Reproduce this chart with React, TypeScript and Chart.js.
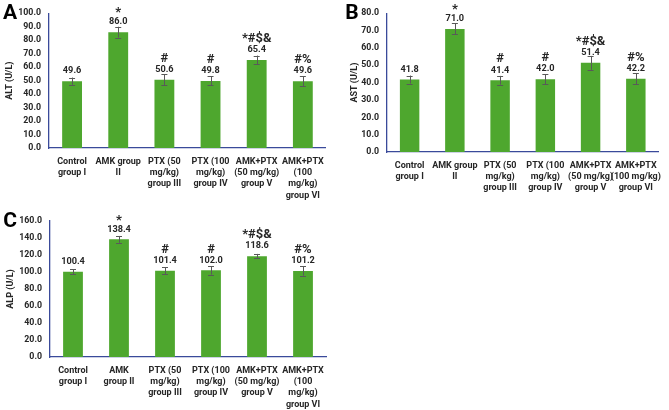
import React, { useEffect, useRef } from "react";
import { Chart, registerables } from "chart.js";

Chart.register(...registerables);

const labelsAB = [
  ["Control", "group I"],
  ["AMK group", "II"],
  ["PTX (50", "mg/kg)", "group III"],
  ["PTX (100", "mg/kg)", "group IV"],
  ["AMK+PTX", "(50 mg/kg)", "group V"],
  ["AMK+PTX", "(100", "mg/kg)", "group VI"],
];
const labelsB = [
  ["Control", "group I"],
  ["AMK group", "II"],
  ["PTX (50", "mg/kg)", "group III"],
  ["PTX (100", "mg/kg)", "group IV"],
  ["AMK+PTX", "(50 mg/kg)", "group V"],
  ["AMK+PTX", "(100 mg/kg)", "group VI"],
];
const labelsC = [
  ["Control", "group I"],
  ["AMK", "group II"],
  ["PTX (50", "mg/kg)", "group III"],
  ["PTX (100", "mg/kg)", "group IV"],
  ["AMK+PTX", "(50 mg/kg)", "group V"],
  ["AMK+PTX", "(100", "mg/kg)", "group VI"],
];

const marks = ["", "*", "#", "#", "*#$&", "#%"];

const altValues = [49.6, 86.0, 50.6, 49.8, 65.4, 49.6];
const altErrors = [2.7, 4.0, 4.0, 3.3, 3.2, 3.7];

const astValues = [41.8, 71.0, 41.4, 42.0, 51.4, 42.2];
const astErrors = [2.3, 3.2, 2.5, 2.9, 4.0, 3.2];

const alpValues = [100.4, 138.4, 101.4, 102.0, 118.6, 101.2];
const alpErrors = [3.0, 4.0, 4.3, 5.0, 2.7, 5.5];

const BAR = "#4EA72E";
const AXIS = "#3A4A9A";
const TEXT = "#262626";
const FONT = "Roboto, 'Liberation Sans', Arial, sans-serif";

const annotPlugin = {
  id: "annot",
  afterDatasetsDraw(chart: any, _args: any, opts: any) {
    const ctx = chart.ctx;
    const meta = chart.getDatasetMeta(0);
    const ys = chart.scales.y;
    const vals = chart.data.datasets[0].data as number[];
    ctx.save();
    meta.data.forEach((el: any, i: number) => {
      const v = vals[i];
      const e = opts.errors[i];
      const x = el.x;
      const yt = ys.getPixelForValue(v + e);
      const yb = ys.getPixelForValue(v - e);
      ctx.strokeStyle = "#595959";
      ctx.lineWidth = 1;
      ctx.beginPath();
      ctx.moveTo(Math.round(x) + 0.5, yt);
      ctx.lineTo(Math.round(x) + 0.5, yb);
      ctx.moveTo(x - 3, Math.round(yt) + 0.5);
      ctx.lineTo(x + 3, Math.round(yt) + 0.5);
      ctx.moveTo(x - 3, Math.round(yb) + 0.5);
      ctx.lineTo(x + 3, Math.round(yb) + 0.5);
      ctx.stroke();
      const top = ys.getPixelForValue(v);
      ctx.fillStyle = TEXT;
      ctx.textAlign = "center";
      ctx.textBaseline = "middle";
      ctx.font = `bold 9.2px ${FONT}`;
      const ly = top - 10;
      ctx.fillText(v.toFixed(1), x, ly);
      const m = opts.marks[i];
      if (m) {
        ctx.font = `bold 13px ${FONT}`;
        ctx.fillText(m, x, ly - 11 + (m === "*" ? 2 : 0));
      }
    });
    ctx.restore();
  },
  afterDraw(chart: any, _args: any, opts: any) {
    const ctx = chart.ctx;
    const ca = chart.chartArea;
    ctx.save();
    ctx.fillStyle = "#000";
    ctx.textAlign = "center";
    ctx.textBaseline = "middle";
    ctx.font = `bold 21px ${FONT}`;
    ctx.fillText(opts.letter, opts.letterX, opts.letterY);
    ctx.translate(opts.titleX, (ca.top + ca.bottom) / 2);
    ctx.rotate(-Math.PI / 2);
    ctx.fillStyle = TEXT;
    ctx.font = `bold 9px ${FONT}`;
    ctx.fillText(opts.title, 0, 0);
    ctx.restore();
  },
};

type PanelProps = {
  left: number;
  top: number;
  width: number;
  height: number;
  labels: string[][];
  values: number[];
  errors: number[];
  max: number;
  step: number;
  axisWidth: number;
  xHeight: number;
  padTop: number;
  padRight: number;
  letter: string;
  letterX: number;
  letterY: number;
  title: string;
  titleX: number;
};

function Panel(p: PanelProps) {
  const ref = useRef<HTMLCanvasElement>(null);
  useEffect(() => {
    if (!ref.current) return;
    const chart = new Chart(ref.current, {
      type: "bar",
      data: {
        labels: p.labels,
        datasets: [
          {
            data: p.values,
            backgroundColor: BAR,
            borderWidth: 0,
            categoryPercentage: 1,
            barPercentage: 0.43,
          },
        ],
      },
      options: {
        responsive: false,
        animation: false,
        devicePixelRatio: 1,
        layout: { padding: { top: p.padTop, right: p.padRight, left: 0, bottom: 0 } },
        plugins: {
          legend: { display: false },
          tooltip: { enabled: false },
          annot: {
            errors: p.errors,
            marks,
            letter: p.letter,
            letterX: p.letterX,
            letterY: p.letterY,
            title: p.title,
            titleX: p.titleX,
          },
        } as any,
        scales: {
          x: {
            grid: { display: false, drawTicks: false },
            border: { display: true, color: AXIS, width: 1.3 },
            ticks: {
              color: TEXT,
              font: { family: FONT, size: 9, weight: "bold", lineHeight: 1.25 },
              padding: 8,
              maxRotation: 0,
              minRotation: 0,
              autoSkip: false,
            },
            afterFit(scale: any) {
              scale.height = p.xHeight;
            },
          },
          y: {
            min: 0,
            max: p.max,
            grid: { display: false, drawTicks: false },
            border: { display: true, color: AXIS, width: 1.3 },
            ticks: {
              stepSize: p.step,
              autoSkip: false,
              color: TEXT,
              font: { family: FONT, size: 8.8, weight: "bold" },
              padding: 8,
              callback: (v: any) => Number(v).toFixed(1),
            },
            afterFit(scale: any) {
              scale.width = p.axisWidth;
            },
          },
        },
      },
      plugins: [annotPlugin],
    });
    return () => chart.destroy();
  }, []);
  return (
    <canvas
      ref={ref}
      width={p.width}
      height={p.height}
      style={{ position: "absolute", left: p.left, top: p.top, width: p.width, height: p.height }}
    />
  );
}

export default function App() {
  return (
    <div
      style={{
        position: "fixed",
        left: 0,
        top: 0,
        width: 669,
        height: 410,
        background: "#fff",
        overflow: "hidden",
      }}
    >
      <Panel
        left={0}
        top={0}
        width={332}
        height={205}
        labels={labelsAB}
        values={altValues}
        errors={altErrors}
        max={100}
        step={10}
        axisWidth={49}
        xHeight={57}
        padTop={13}
        padRight={4}
        letter="A"
        letterX={10}
        letterY={14}
        title="ALT (U/L)"
        titleX={10}
      />
      <Panel
        left={335}
        top={0}
        width={334}
        height={205}
        labels={labelsB}
        values={astValues}
        errors={astErrors}
        max={80}
        step={10}
        axisWidth={52}
        xHeight={53}
        padTop={5}
        padRight={1}
        letter="B"
        letterX={17}
        letterY={14}
        title="AST (U/L)"
        titleX={20}
      />
      <Panel
        left={0}
        top={205}
        width={332}
        height={205}
        labels={labelsC}
        values={alpValues}
        errors={alpErrors}
        max={160}
        step={20}
        axisWidth={50}
        xHeight={53}
        padTop={16}
        padRight={2}
        letter="C"
        letterX={10}
        letterY={17}
        title="ALP (U/L)"
        titleX={11}
      />
    </div>
  );
}
